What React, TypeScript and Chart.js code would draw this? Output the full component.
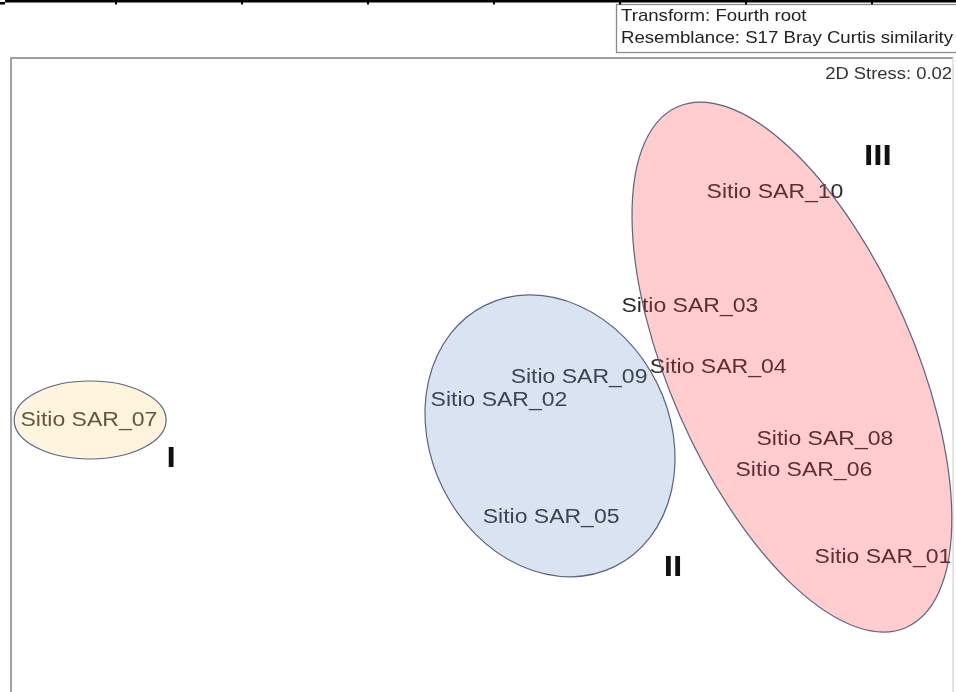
import React, { useEffect, useRef } from "react";
import { Chart, registerables } from "chart.js";

Chart.register(...registerables);

// nMDS site coordinates (arbitrary MDS units)
const siteLabels = [
  "Sitio SAR_01", "Sitio SAR_02", "Sitio SAR_03", "Sitio SAR_04", "Sitio SAR_05",
  "Sitio SAR_06", "Sitio SAR_07", "Sitio SAR_08", "Sitio SAR_09", "Sitio SAR_10",
];
const mdsX = [1.277, 0.054, 0.662, 0.752, 0.22, 1.025, -1.252, 1.092, 0.309, 0.933];
const mdsY = [-0.577, -0.079, 0.215, 0.025, -0.451, -0.3, -0.145, -0.202, -0.009, 0.577];

// cluster groups
const groupNames = ["I", "II", "III"];
const ellipseCX = [-1.248, 0.2166, 0.987];
const ellipseCY = [-0.142, -0.192, 0.025];
const ellipseRX = [0.242, 0.38, 0.389];
const ellipseRY = [0.123, 0.46, 0.897];
const ellipseAngle = [0, -26.5, -23.7];
const groupLabelX = [-0.99, 0.608, 1.261];
const groupLabelY = [-0.265, -0.609, 0.688];

const legendLines = ["Transform: Fourth root", "Resemblance: S17 Bray Curtis similarity"];
const stressText = "2D Stress: 0.02";

const FONT = "'Liberation Sans', Arial, sans-serif";
const XS = 1.15;

const groupFill = ["rgba(255,215,123,0.25)", "rgba(107,143,203,0.25)", "rgba(255,55,55,0.25)"];

function drawText(ctx: CanvasRenderingContext2D, text: string, x: number, y: number, font: string, color: string, align: CanvasTextAlign) {
  ctx.save();
  ctx.translate(x, y);
  ctx.scale(XS, 1);
  ctx.font = font;
  ctx.textAlign = align;
  ctx.textBaseline = "middle";
  ctx.fillStyle = color;
  ctx.fillText(text, 0, 0);
  ctx.restore();
}

const overlayPlugin = {
  id: "nmdsOverlay",
  afterDatasetsDraw(chart: any) {
    const ctx: CanvasRenderingContext2D = chart.ctx;
    const xs = chart.scales.x;
    const ys = chart.scales.y;
    const area = chart.chartArea;
    const meta = chart.getDatasetMeta(0);

    ctx.save();
    // frame
    ctx.strokeStyle = "#a0a0a0";
    ctx.lineWidth = 2;
    ctx.beginPath();
    ctx.moveTo(area.left, area.bottom + 5);
    ctx.lineTo(area.left, area.top);
    ctx.lineTo(area.right, area.top);
    ctx.stroke();
    ctx.strokeStyle = "#dcdcdc";
    ctx.lineWidth = 1.5;
    ctx.beginPath();
    ctx.moveTo(area.right, area.top);
    ctx.lineTo(area.right, area.bottom + 5);
    ctx.stroke();

    // site labels
    meta.data.forEach((pt: any, i: number) => {
      drawText(ctx, siteLabels[i], pt.x, pt.y, `20px ${FONT}`, "#2b2b2b", "center");
    });

    // ellipses over labels
    for (let g = 0; g < groupNames.length; g++) {
      const cx = xs.getPixelForValue(ellipseCX[g]);
      const cy = ys.getPixelForValue(ellipseCY[g]);
      const rx = Math.abs(xs.getPixelForValue(ellipseCX[g] + ellipseRX[g]) - cx);
      const ry = Math.abs(ys.getPixelForValue(ellipseCY[g] + ellipseRY[g]) - cy);
      ctx.beginPath();
      ctx.ellipse(cx, cy, rx, ry, (ellipseAngle[g] * Math.PI) / 180, 0, Math.PI * 2);
      ctx.fillStyle = groupFill[g];
      ctx.fill();
      ctx.strokeStyle = "rgba(75,85,115,0.9)";
      ctx.lineWidth = 1.2;
      ctx.stroke();
    }

    // group numerals
    for (let g = 0; g < groupNames.length; g++) {
      drawText(ctx, groupNames[g], xs.getPixelForValue(groupLabelX[g]), ys.getPixelForValue(groupLabelY[g]),
        `bold 29px ${FONT}`, "#111", "center");
    }

    // stress
    drawText(ctx, stressText, 952, 75, `16px ${FONT}`, "#333", "right");

    // legend box
    ctx.fillStyle = "#ffffff";
    ctx.fillRect(616, 4, 345, 48);
    ctx.strokeStyle = "#8a8a8a";
    ctx.lineWidth = 1.3;
    ctx.strokeRect(616.5, 4.5, 345, 48);
    drawText(ctx, legendLines[0], 621, 17, `16.2px ${FONT}`, "#222", "left");
    drawText(ctx, legendLines[1], 621, 39, `16.2px ${FONT}`, "#222", "left");

    // top cropped rule with ticks
    ctx.fillStyle = "#000";
    ctx.fillRect(5, 0, 951, 2.5);
    ctx.fillRect(0, 2, 5, 2.5);
    [115, 241, 367, 493, 619, 745, 871].forEach((tx) => ctx.fillRect(tx, 0, 2, 4.5));
    ctx.restore();
  },
};

export default function App() {
  const ref = useRef<HTMLCanvasElement | null>(null);
  useEffect(() => {
    if (!ref.current) return;
    const chart = new Chart(ref.current, {
      type: "scatter",
      data: {
        datasets: [
          {
            label: "Sites",
            data: mdsX.map((x, i) => ({ x, y: mdsY[i] })),
            pointRadius: 0,
            pointHoverRadius: 0,
            backgroundColor: "transparent",
            borderColor: "transparent",
          },
        ],
      },
      options: {
        responsive: false,
        animation: false,
        layout: { padding: { left: 11, top: 58, right: 3, bottom: 0 } },
        plugins: { legend: { display: false }, tooltip: { enabled: false } },
        events: [],
        scales: {
          x: { type: "linear", min: -1.5, max: 1.5, display: false },
          y: { type: "linear", min: -1, max: 1, display: false },
        },
      },
      plugins: [overlayPlugin],
    });
    return () => chart.destroy();
  }, []);
  return (
    <div style={{ position: "fixed", left: 0, top: 0, width: 956, height: 692, background: "#fff" }}>
      <canvas ref={ref} width={956} height={692} style={{ display: "block" }} />
    </div>
  );
}
